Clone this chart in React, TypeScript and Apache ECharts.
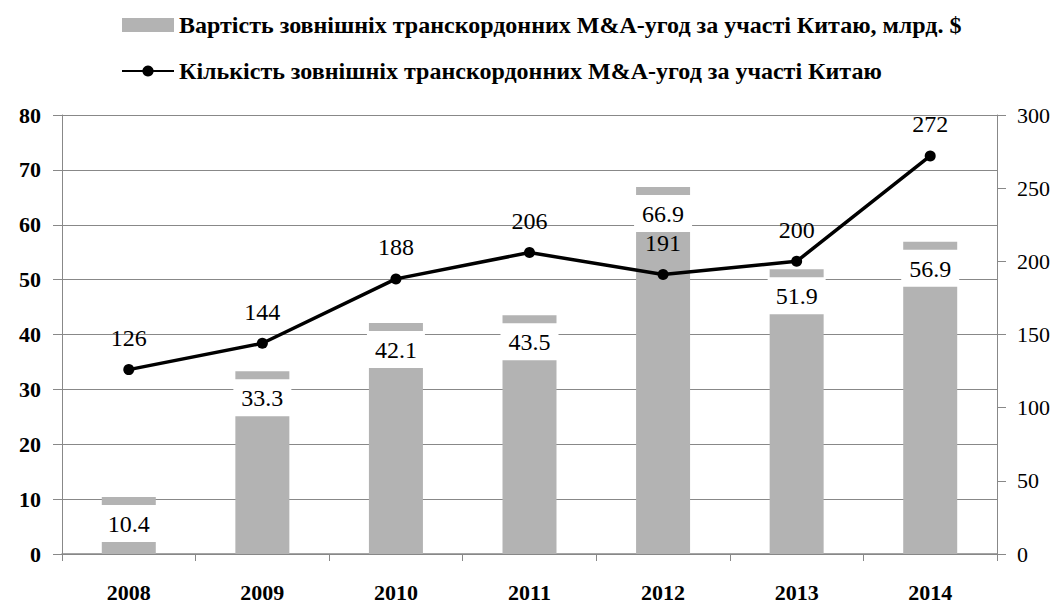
import React, { useEffect, useRef } from "react";
import * as echarts from "echarts";

const years = ["2008", "2009", "2010", "2011", "2012", "2013", "2014"];
const dealValues = [10.4, 33.3, 42.1, 43.5, 66.9, 51.9, 56.9];
const dealCounts = [126, 144, 188, 206, 191, 200, 272];
const barName = "Вартість зовнішніх транскордонних M&A-угод за участі Китаю, млрд. $";
const lineName = "Кількість зовнішніх транскордонних M&A-угод за участі Китаю";

const FONT = '"Times New Roman", "Liberation Serif", "DejaVu Serif", serif';

export default function App() {
  const ref = useRef<HTMLDivElement>(null);
  useEffect(() => {
    if (!ref.current) return;
    const chart = echarts.init(ref.current, undefined, { renderer: "svg" });
    chart.setOption({
      animation: false,
      textStyle: { fontFamily: FONT },
      legend: {
        orient: "vertical",
        left: 116,
        top: 8,
        itemGap: 22,
        itemWidth: 52,
        itemHeight: 14,
        textStyle: { fontFamily: FONT, fontSize: 24, fontWeight: "bold", color: "#000" },
        data: [
          { name: barName, icon: "rect" },
          { name: lineName },
        ],
      },
      grid: { left: 62, right: 64, top: 115, bottom: 51, containLabel: false },
      xAxis: {
        type: "category",
        data: years,
        boundaryGap: true,
        axisLine: { lineStyle: { color: "#888", width: 1.5 } },
        axisTick: { show: true, alignWithLabel: false, length: 7, lineStyle: { color: "#888" } },
        axisLabel: { color: "#000", fontSize: 22, fontWeight: "bold", fontFamily: FONT, margin: 27 },
      },
      yAxis: [
        {
          type: "value",
          min: 0,
          max: 80,
          interval: 10,
          axisLine: { show: true, lineStyle: { color: "#888" } },
          axisTick: { show: true, length: 9, lineStyle: { color: "#888" } },
          splitLine: { show: true, lineStyle: { color: "#888", width: 1 } },
          axisLabel: { color: "#000", fontSize: 22, fontWeight: "bold", fontFamily: FONT, margin: 21 },
        },
        {
          type: "value",
          min: 0,
          max: 300,
          interval: 50,
          position: "right",
          axisLine: { show: true, lineStyle: { color: "#888" } },
          axisTick: { show: true, length: 9, lineStyle: { color: "#888" } },
          splitLine: { show: false },
          axisLabel: { color: "#000", fontSize: 22, fontFamily: FONT, margin: 20 },
        },
      ],
      series: [
        {
          name: barName,
          type: "bar",
          yAxisIndex: 0,
          data: dealValues,
          barWidth: 54,
          itemStyle: { color: "#b3b3b3" },
          label: {
            show: true,
            position: "insideTop",
            distance: 8,
            color: "#000",
            fontSize: 24,
            fontFamily: FONT,
            backgroundColor: "#fff",
            padding: [7, 8, 6, 8],
            formatter: (p: any) => String(p.value),
          },
        },
        {
          name: lineName,
          type: "line",
          yAxisIndex: 1,
          data: dealCounts,
          symbol: "circle",
          symbolSize: 11,
          itemStyle: { color: "#000" },
          lineStyle: { color: "#000", width: 3.5 },
          label: {
            show: true,
            position: "top",
            distance: 14,
            color: "#000",
            fontSize: 24,
            fontFamily: FONT,
          },
          z: 5,
        },
      ],
    });
    return () => chart.dispose();
  }, []);
  return <div ref={ref} style={{ width: 1061, height: 605, position: "absolute", left: 0, top: 0, background: "#fff" }} />;
}
